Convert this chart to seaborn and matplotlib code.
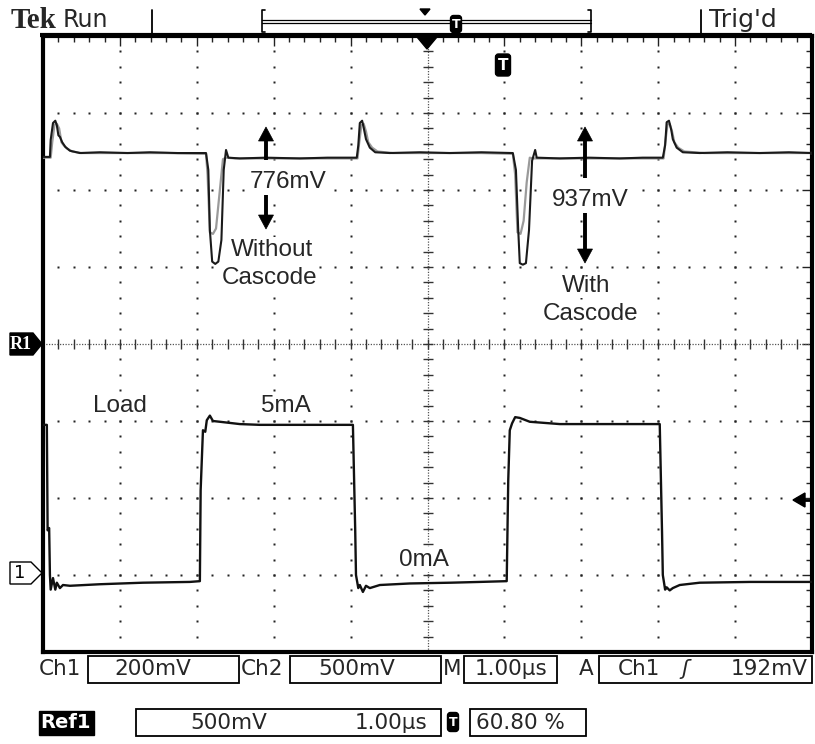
import numpy as np
import pandas as pd
import matplotlib
matplotlib.use("Agg")
import matplotlib.pyplot as plt
import seaborn as sns
from matplotlib.patches import Polygon, FancyBboxPatch, Rectangle

sns.set_style("white")
plt.rcParams['font.family'] = ['DejaVu Sans']

# ---------------- data (time in divisions 0..10 = 1 us/div, level in screen divisions 0..8) ----
ch2_t = [0.00, 0.09, 0.10, 0.13, 0.16, 0.18, 0.20, 0.22, 0.25, 0.29,
         0.35, 0.48, 0.74, 1.10, 1.39, 1.75, 2.12, 2.15, 2.17, 2.20,
         2.24, 2.28, 2.32, 2.35, 2.38, 2.41, 2.56, 2.90, 3.34, 3.70,
         4.08, 4.10, 4.12, 4.15, 4.17, 4.20, 4.25, 4.32, 4.51, 4.90,
         5.29, 5.70, 6.11, 6.15, 6.18, 6.20, 6.24, 6.28, 6.32, 6.36,
         6.40, 6.42, 6.72, 7.10, 7.50, 7.80, 8.06, 8.09, 8.11, 8.14,
         8.17, 8.19, 8.24, 8.32, 8.54, 8.90, 9.32, 9.70, 10.0]
ch2_v = [6.43, 6.43, 6.65, 6.87, 6.90, 6.84, 6.71, 6.69, 6.62, 6.56,
         6.51, 6.48, 6.49, 6.48, 6.49, 6.48, 6.48, 6.26, 5.48, 5.07,
         5.04, 5.07, 5.35, 6.26, 6.52, 6.42, 6.41, 6.42, 6.41, 6.42,
         6.42, 6.58, 6.87, 6.90, 6.81, 6.66, 6.55, 6.49, 6.48, 6.49,
         6.48, 6.49, 6.48, 6.26, 5.48, 5.05, 5.03, 5.05, 5.48, 6.38,
         6.52, 6.42, 6.41, 6.42, 6.41, 6.42, 6.42, 6.58, 6.88, 6.90,
         6.78, 6.66, 6.55, 6.49, 6.48, 6.49, 6.48, 6.49, 6.48]

ref1_t = [0.00, 0.10, 0.12, 0.15, 0.18, 0.21, 0.24, 0.27, 0.31, 0.38,
          0.50, 1.00, 1.60, 2.12, 2.14, 2.17, 2.21, 2.25, 2.30, 2.34,
          2.38, 2.50, 3.00, 3.60, 4.09, 4.11, 4.14, 4.17, 4.20, 4.23,
          4.28, 4.35, 4.55, 5.10, 5.70, 6.11, 6.14, 6.17, 6.21, 6.25,
          6.29, 6.33, 6.37, 6.50, 7.00, 7.60, 8.07, 8.09, 8.12, 8.15,
          8.18, 8.21, 8.26, 8.34, 8.60, 9.20, 10.0]
ref1_v = [6.42, 6.42, 6.62, 6.85, 6.86, 6.80, 6.62, 6.58, 6.54, 6.50,
          6.48, 6.48, 6.48, 6.47, 6.20, 5.45, 5.43, 5.50, 6.00, 6.40,
          6.42, 6.41, 6.41, 6.41, 6.41, 6.60, 6.84, 6.86, 6.76, 6.62,
          6.55, 6.50, 6.48, 6.48, 6.48, 6.47, 6.20, 5.45, 5.43, 5.60,
          6.10, 6.42, 6.41, 6.41, 6.41, 6.41, 6.41, 6.60, 6.85, 6.86,
          6.76, 6.62, 6.55, 6.50, 6.48, 6.48, 6.48]

ch1_t = [0.00, 0.05, 0.06, 0.08, 0.09, 0.10, 0.13, 0.16, 0.18, 0.22,
         0.26, 0.35, 0.74, 1.30, 1.91, 2.04, 2.05, 2.08, 2.11, 2.13,
         2.17, 2.21, 2.30, 2.56, 2.82, 3.50, 4.03, 4.06, 4.07, 4.10,
         4.12, 4.16, 4.20, 4.25, 4.38, 4.77, 5.30, 5.68, 6.03, 6.05,
         6.07, 6.10, 6.14, 6.20, 6.33, 6.72, 7.40, 8.02, 8.05, 8.06,
         8.09, 8.11, 8.15, 8.19, 8.28, 8.54, 9.20, 10.0]
ch1_v = [2.95, 2.95, 1.58, 1.61, 1.00, 0.81, 0.96, 0.81, 0.90, 0.83,
         0.87, 0.86, 0.88, 0.90, 0.91, 0.92, 2.10, 2.88, 2.86, 3.01,
         3.07, 3.00, 2.99, 2.96, 2.95, 2.95, 2.95, 1.58, 1.00, 0.83,
         0.87, 0.78, 0.86, 0.83, 0.87, 0.89, 0.90, 0.91, 0.92, 2.23,
         2.88, 2.97, 3.05, 3.04, 2.99, 2.96, 2.96, 2.96, 1.55, 1.00,
         0.81, 0.84, 0.80, 0.83, 0.87, 0.90, 0.91, 0.91]

status_row1 = ["Ch1", "200mV", "Ch2", "500mV", "M", "1.00µs", "A", "Ch1", "ʃ", "192mV"]
status_row2 = ["Ref1", "500mV", "1.00µs", "60.80 %"]
annotations = ["776mV", "Without", "Cascode", "937mV", "With", "Cascode", "Load", "5mA", "0mA"]

# ---------------- figure ----------------
W, H = 815, 744
fig = plt.figure(figsize=(W / 100, H / 100), dpi=100)
fig.patch.set_facecolor("white")
X0, X1, Y0, Y1 = 43, 812, 36, 652
ax = fig.add_axes([X0 / W, 1 - Y1 / H, (X1 - X0) / W, (Y1 - Y0) / H])
ax.set_facecolor("white")

# graticule dots
minor = np.arange(0, 10.001, 0.2)
minor_y = np.arange(0, 8.001, 0.2)
dx, dy = [], []
for xv in [1, 2, 3, 4, 6, 7, 8, 9]:
    dx += [xv] * len(minor_y); dy += list(minor_y)
for yv in [1, 2, 3, 5, 6, 7]:
    dx += list(minor); dy += [yv] * len(minor)
ax.plot(dx, dy, ls="none", marker="s", ms=1.6, mec="none", color="#222222", zorder=1)
# centre cross (dense dotted + ticks)
ax.plot([5, 5], [0, 8], color="#555555", lw=0.9, ls=(0, (1, 1.2)), zorder=1)
ax.plot([0, 10], [4, 4], color="#555555", lw=0.9, ls=(0, (1, 1.2)), zorder=1)
ax.plot([5] * len(minor_y), minor_y, ls="none", marker="_", ms=7, mew=1.0, color="#333333", zorder=1)
ax.plot(minor, [4] * len(minor), ls="none", marker="|", ms=7, mew=1.0, color="#333333", zorder=1)

# traces
sns.lineplot(x=ref1_t, y=ref1_v, ax=ax, sort=False, estimator=None, color="#9a9a9a", lw=1.6, zorder=3)
sns.lineplot(x=ch2_t, y=ch2_v, ax=ax, sort=False, estimator=None, color="#1a1a1a", lw=1.5, zorder=4)
sns.lineplot(x=ch1_t, y=ch1_v, ax=ax, sort=False, estimator=None, color="#111111", lw=1.7, zorder=4)

ax.set_xlim(0, 10)
ax.set_ylim(0, 8)
ax.set_xticks(range(0, 11)); ax.set_yticks(range(0, 9))
ax.set_xticks(minor, minor=True); ax.set_yticks(minor_y, minor=True)
ax.tick_params(which="major", direction="in", length=7, width=1.0, color="#222222",
               top=True, right=True, labelbottom=False, labelleft=False)
ax.tick_params(which="minor", direction="in", length=4, width=1.0, color="#222222",
               top=True, right=True)
ax.set_xlabel(""); ax.set_ylabel("")
for s in ax.spines.values():
    s.set_linewidth(3.0); s.set_color("black")

# ---------------- overlay in pixel coordinates ----------------
ov = fig.add_axes([0, 0, 1, 1], zorder=5)
ov.set_xlim(0, W); ov.set_ylim(H, 0); ov.axis("off"); ov.patch.set_alpha(0)

def tbadge(cx, cy, w, h, fs):
    ov.add_patch(FancyBboxPatch((cx - w / 2, cy - h / 2), w, h, boxstyle="round,pad=0,rounding_size=3",
                                fc="black", ec="black", lw=1))
    ov.text(cx, cy + 1, "T", color="white", fontsize=fs, fontweight="bold", ha="center", va="center")

def varrow(x, y_tail, y_tip):
    d = 1 if y_tip > y_tail else -1
    hl, hw = 14, 7.5
    ov.plot([x, x], [y_tail, y_tip - d * (hl - 2)], color="black", lw=2.8, solid_capstyle="butt")
    ov.add_patch(Polygon([[x, y_tip], [x - hw, y_tip - d * hl], [x + hw, y_tip - d * hl]],
                         closed=True, fc="black", ec="black", lw=0.5))

# header
ov.text(11, 21, "Tek", fontsize=21, fontweight="bold", family=["Liberation Serif", "DejaVu Serif"],
        ha="left", va="center")
ov.text(63, 20, "Run", fontsize=17, ha="left", va="center")
ov.plot([152, 152], [10, 34], color="black", lw=1.3)
ov.plot([701, 701], [10, 34], color="black", lw=1.3)
ov.text(709, 20, "Trig'd", fontsize=18, ha="left", va="center")
ov.plot([265, 262, 262, 265], [10, 10, 32, 32], color="black", lw=1.2)
ov.plot([588, 591, 591, 588], [10, 10, 32, 32], color="black", lw=1.2)
ov.plot([262, 591], [19.5, 19.5], color="black", lw=0.9)
ov.plot([262, 591], [22.5, 22.5], color="black", lw=0.9)
ov.add_patch(Polygon([[420, 9], [430, 9], [425, 15]], closed=True, fc="black", ec="black"))
tbadge(456, 24, 11, 17, 9)
ov.plot([40, 812], [35, 35], color="black", lw=3.0, solid_capstyle="butt")

# trigger position and level markers
ov.add_patch(Polygon([[417, 37], [437, 37], [427, 49]], closed=True, fc="black", ec="black"))
tbadge(503, 65, 15, 22, 11)
ov.add_patch(Polygon([[793, 500], [805, 493], [805, 507]], closed=True, fc="black", ec="black"))
ov.plot([804, 811], [500, 500], color="black", lw=2)

# channel markers
ov.add_patch(Polygon([[10, 333], [33, 333], [42, 344], [33, 355], [10, 355]], closed=True,
                     fc="black", ec="black"))
ov.text(21, 344.5, "R1", color="white", fontsize=13, fontweight="bold", ha="center", va="center",
        family=["Liberation Serif", "DejaVu Serif"])
ov.add_patch(Polygon([[10, 562], [31, 562], [42, 573], [31, 584], [10, 584]], closed=True,
                     fc="white", ec="black", lw=1.0))
ov.text(20, 573.5, "1", color="black", fontsize=13, ha="center", va="center")

# annotations (white background hides the graticule behind them)
af = ["Liberation Sans", "DejaVu Sans"]
afs = 17.5
bb = dict(facecolor="white", edgecolor="none", pad=1.0)
pos = [(288, 180), (272, 247), (270, 275), (590, 197), (586, 283), (591, 311),
       (120, 403), (286, 403), (424, 557)]
for txt, (px, py) in zip(annotations, pos):
    ov.text(px, py, txt, fontsize=afs, family=af, ha="center", va="center_baseline", bbox=bb)

varrow(266, 160, 127)
varrow(266, 195, 229)
varrow(585, 178, 127)
varrow(585, 213, 263)

# status bar row 1
sfs = 15.5
def box(x0, x1, y0, y1):
    ov.add_patch(Rectangle((x0, y0), x1 - x0, y1 - y0, fill=False, ec="black", lw=1.3))
r1y = 669
box(88, 239, 656, 683); box(290, 441, 656, 683); box(464, 557, 656, 683); box(599, 812, 656, 683)
ov.text(39, r1y, status_row1[0], fontsize=sfs, ha="left", va="center")
ov.text(153, r1y, status_row1[1], fontsize=sfs, ha="center", va="center")
ov.text(241, r1y, status_row1[2], fontsize=sfs, ha="left", va="center")
ov.text(357, r1y, status_row1[3], fontsize=sfs, ha="center", va="center")
ov.text(443, r1y, status_row1[4], fontsize=sfs, ha="left", va="center")
ov.text(511, r1y, status_row1[5], fontsize=sfs, ha="center", va="center")
ov.text(579, r1y, status_row1[6], fontsize=sfs, ha="left", va="center")
ov.text(618, r1y, status_row1[7], fontsize=sfs, ha="left", va="center")
ov.text(685, r1y, status_row1[8], fontsize=sfs, ha="center", va="center", style="italic")
ov.text(808, r1y, status_row1[9], fontsize=sfs, ha="right", va="center")

# status bar row 2
r2y = 723
ov.add_patch(Rectangle((39, 711), 55, 24, fc="black", ec="black"))
ov.text(66, r2y, status_row2[0], color="white", fontsize=14, fontweight="bold", ha="center", va="center",
        family=["Liberation Sans Narrow", "DejaVu Sans"])
box(136, 441, 709, 736); box(470, 586, 709, 736)
ov.text(229, r2y, status_row2[1], fontsize=sfs, ha="center", va="center")
ov.text(427, r2y, status_row2[2], fontsize=sfs, ha="right", va="center")
tbadge(453, 722, 11, 19, 9)
ov.text(476, r2y, status_row2[3], fontsize=sfs, ha="left", va="center")

fig.savefig("out.png", dpi=100, facecolor="white")
